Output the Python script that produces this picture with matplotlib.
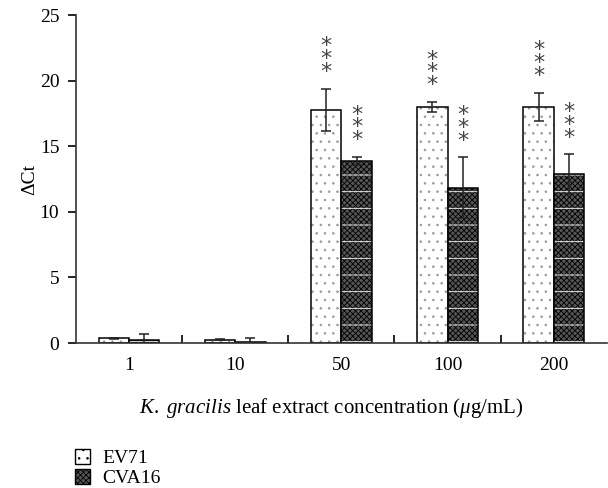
import numpy as np
import matplotlib.pyplot as plt
from matplotlib.patches import Patch

plt.rcParams['font.family'] = ['Liberation Serif', 'DejaVu Serif']
plt.rcParams['mathtext.fontset'] = 'custom'
plt.rcParams['mathtext.rm'] = 'Liberation Serif'
plt.rcParams['mathtext.it'] = 'Liberation Serif:italic'
plt.rcParams['hatch.linewidth'] = 0.6

# data
concentrations = ['1', '10', '50', '100', '200']
ev71 = [0.35, 0.25, 17.8, 18.0, 18.0]
ev71_err = [0.05, 0.05, 1.6, 0.4, 1.1]
cva16 = [0.25, 0.1, 13.9, 11.85, 12.9]
cva16_err = [0.45, 0.25, 0.3, 2.3, 1.5]
ev71_sig = ['', '', '*\n*\n*', '*\n*\n*', '*\n*\n*']
cva16_sig = ['', '', '*\n*\n*', '*\n*\n*', '*\n*\n*']

x = np.arange(len(concentrations))
w = 0.286

fig = plt.figure(figsize=(6.08, 4.88), dpi=100)
ax = fig.add_axes([0.125, 0.297, 0.873, 0.672])

ekw = dict(elinewidth=1.1, capthick=1.1, ecolor='#222222')

# EV71: white with sparse grey dots
ax.bar(x - w / 2, ev71, w, color='white', edgecolor='#999999', hatch='..',
       linewidth=0)
ax.bar(x - w / 2, ev71, w, color='none', edgecolor='black', linewidth=1.1,
       yerr=ev71_err, capsize=3.5, error_kw=ekw)

# CVA16: dense dark crosshatch with white horizontal lines
ax.bar(x + w / 2, cva16, w, color='#555555', edgecolor='black', hatch='xxxxxx',
       linewidth=0)
ax.bar(x + w / 2, cva16, w, color='none', edgecolor='white', hatch='-',
       linewidth=0)
ax.bar(x + w / 2, cva16, w, color='none', edgecolor='black', linewidth=1.1,
       yerr=cva16_err, capsize=3.5, error_kw=ekw)

# significance stars
for i in range(len(x)):
    if ev71_sig[i]:
        ax.text(x[i] - w / 2, ev71[i] + ev71_err[i] + 0.5, ev71_sig[i],
                ha='center', va='bottom', fontsize=16, color='#444444',
                linespacing=0.55, family='DejaVu Sans')
    if cva16_sig[i]:
        ax.text(x[i] + w / 2, cva16[i] + cva16_err[i] + 0.5, cva16_sig[i],
                ha='center', va='bottom', fontsize=16, color='#444444',
                linespacing=0.55, family='DejaVu Sans')

ax.set_xlim(-0.5, 4.5)
ax.set_ylim(0, 25)
ax.set_yticks([0, 5, 10, 15, 20, 25])
ax.set_xticks(x)
ax.set_xticklabels(concentrations)
ax.set_xticks(x[:-1] + 0.5, minor=True)
ax.tick_params(axis='x', which='major', length=0, labelsize=14, pad=10)
ax.tick_params(axis='x', which='minor', direction='in', length=6, width=1.2)
ax.tick_params(axis='y', direction='out', length=6, width=1.2, labelsize=14,
               pad=6)

for s in ['top', 'right']:
    ax.spines[s].set_visible(False)
for s in ['left', 'bottom']:
    ax.spines[s].set_linewidth(1.2)
    ax.spines[s].set_color('#333333')

ax.set_ylabel('ΔCt', fontsize=14, labelpad=1)
ax.set_xlabel(r'$\mathit{K.\ gracilis}$ leaf extract concentration ($\mathit{μ}$g/mL)',
              fontsize=15, labelpad=16, x=0.48)

handles = [Patch(facecolor='white', edgecolor='black', hatch='..'),
           Patch(facecolor='#555555', edgecolor='black', hatch='xxxxxx')]
fig.legend(handles, ['EV71', 'CVA16'], loc='upper left',
           bbox_to_anchor=(0.123, 0.08), frameon=False, fontsize=14,
           handlelength=0.8, handleheight=0.8, handletextpad=0.6,
           labelspacing=0.1, borderpad=0, borderaxespad=0)

fig.savefig('out.png', dpi=100)
